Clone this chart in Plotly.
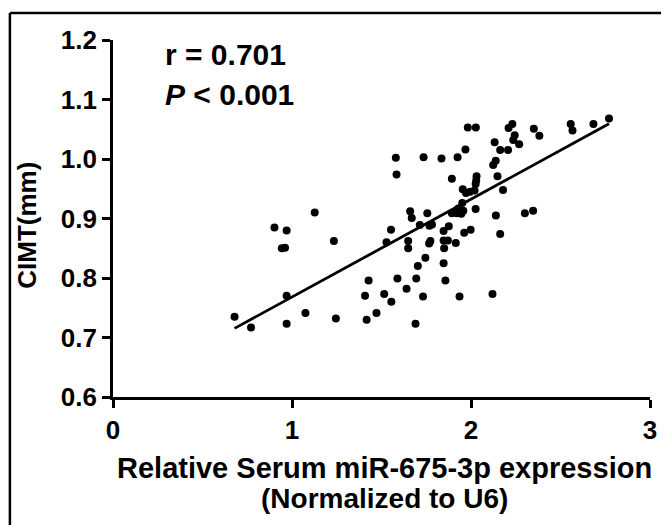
import numpy as np
import plotly.graph_objects as go

# ---- data ----
mir_expr = [0.679, 0.771, 0.902, 0.970, 0.943, 0.961, 0.970, 0.970, 1.075, 1.127,
            1.234, 1.245, 1.408, 1.417, 1.428, 1.472, 1.515, 1.528, 1.553, 1.555,
            1.580, 1.584, 1.589, 1.640, 1.649, 1.649, 1.660, 1.669, 1.690, 1.694,
            1.703, 1.714, 1.732, 1.735, 1.745, 1.756, 1.768, 1.773, 1.766, 1.782,
            1.835, 1.847, 1.847, 1.850, 1.847, 1.857, 1.871, 1.876, 1.893, 1.893,
            1.915, 1.925, 1.936, 1.929, 1.921, 1.946, 1.957, 1.951, 1.969, 1.954,
            1.972, 1.995, 1.998, 1.962, 2.020, 2.026, 2.029, 2.031, 2.026, 1.982,
            2.027, 2.120, 2.124, 2.138, 2.132, 2.139, 2.148, 2.163, 2.163, 2.179,
            2.207, 2.210, 2.231, 2.244, 2.236, 2.269, 2.301, 2.347, 2.351, 2.382,
            2.557, 2.567, 2.684, 2.771]
cimt = [0.735, 0.717, 0.885, 0.880, 0.850, 0.851, 0.770, 0.723, 0.741, 0.910,
        0.862, 0.732, 0.770, 0.730, 0.796, 0.741, 0.773, 0.860, 0.881, 0.760,
        1.002, 0.974, 0.799, 0.782, 0.862, 0.850, 0.912, 0.901, 0.723, 0.799,
        0.820, 0.889, 0.769, 1.003, 0.834, 0.909, 0.888, 0.862, 0.858, 0.890,
        1.001, 0.879, 0.863, 0.850, 0.825, 0.796, 0.863, 0.887, 0.909, 0.967,
        0.859, 1.003, 0.769, 0.917, 0.909, 0.908, 0.913, 0.926, 1.016, 0.949,
        0.943, 0.945, 0.881, 0.876, 0.947, 0.958, 0.964, 0.971, 0.916, 1.053,
        1.053, 0.773, 0.990, 0.997, 1.028, 0.905, 0.971, 0.874, 1.015, 0.948,
        1.015, 1.052, 1.059, 1.040, 1.032, 1.025, 0.909, 0.913, 1.051, 1.039,
        1.059, 1.048, 1.059, 1.068]

# regression line as drawn in the reference
fit_slope = 0.1643
fit_intercept = 0.6038

x_ticks = [0, 1, 2, 3]
y_ticks = [0.6, 0.7, 0.8, 0.9, 1.0, 1.1, 1.2]

FONT = "Liberation Sans, Arial, sans-serif"

fig = go.Figure()

fig.add_trace(go.Scatter(
    x=mir_expr, y=cimt, mode="markers",
    marker=dict(size=8, color="black"),
    showlegend=False, cliponaxis=False,
))

fx = np.array([min(mir_expr), max(mir_expr)])
fig.add_trace(go.Scatter(
    x=fx, y=fit_intercept + fit_slope * fx, mode="lines",
    line=dict(color="black", width=2.8),
    showlegend=False,
))

axis_style = dict(
    showline=True, linecolor="black", linewidth=2.8,
    ticks="outside", ticklen=8, tickwidth=2.8, tickcolor="black",
    showgrid=False, zeroline=False,
    tickfont=dict(family=FONT, size=26, color="black", weight="bold"),
)
fig.update_xaxes(range=[0, 3], tickvals=x_ticks, tickformat="d", **axis_style)
fig.update_yaxes(range=[0.6, 1.2], tickvals=y_ticks, tickformat=".1f", **axis_style)

# stats text
fig.add_annotation(x=0.28, y=1.175, xref="x", yref="y", xanchor="left", yanchor="middle",
                   text="r = 0.701", showarrow=False,
                   font=dict(family=FONT, size=30, color="black", weight="bold"))
fig.add_annotation(x=0.28, y=1.108, xref="x", yref="y", xanchor="left", yanchor="middle",
                   text="<i>P</i> &lt; 0.001", showarrow=False,
                   font=dict(family=FONT, size=30, color="black", weight="bold"))

# axis titles
fig.add_annotation(x=0.505, y=-0.199, xref="paper", yref="paper", xanchor="center", yanchor="middle",
                   text="Relative Serum miR-675-3p expression",
                   showarrow=False,
                   font=dict(family=FONT, size=29, color="black", weight="bold"))
fig.add_annotation(x=0.505, y=-0.283, xref="paper", yref="paper", xanchor="center", yanchor="middle",
                   text="(Normalized to U6)",
                   showarrow=False,
                   font=dict(family=FONT, size=28, color="black", weight="bold"))
fig.add_annotation(x=-0.16, y=0.48, xref="paper", yref="paper", xanchor="center", yanchor="middle",
                   text="CIMT(mm)", textangle=-90, showarrow=False,
                   font=dict(family=FONT, size=26, color="black", weight="bold"))

# outer frame (left and top edges visible)
fig.add_shape(type="line", xref="paper", yref="paper", x0=-0.192, y0=1.0756, x1=1.1, y1=1.0756,
              line=dict(color="black", width=2.5))
fig.add_shape(type="line", xref="paper", yref="paper", x0=-0.192, y0=1.0756, x1=-0.192, y1=-0.45,
              line=dict(color="black", width=2.5))

# page body adds an 8px offset, so the figure is 8px smaller and shifted
fig.update_layout(
    width=661, height=517,
    margin=dict(l=105, r=14, t=32, b=128),
    plot_bgcolor="white", paper_bgcolor="white",
    font=dict(family=FONT, color="black"),
)

fig.write_html("out.html")
